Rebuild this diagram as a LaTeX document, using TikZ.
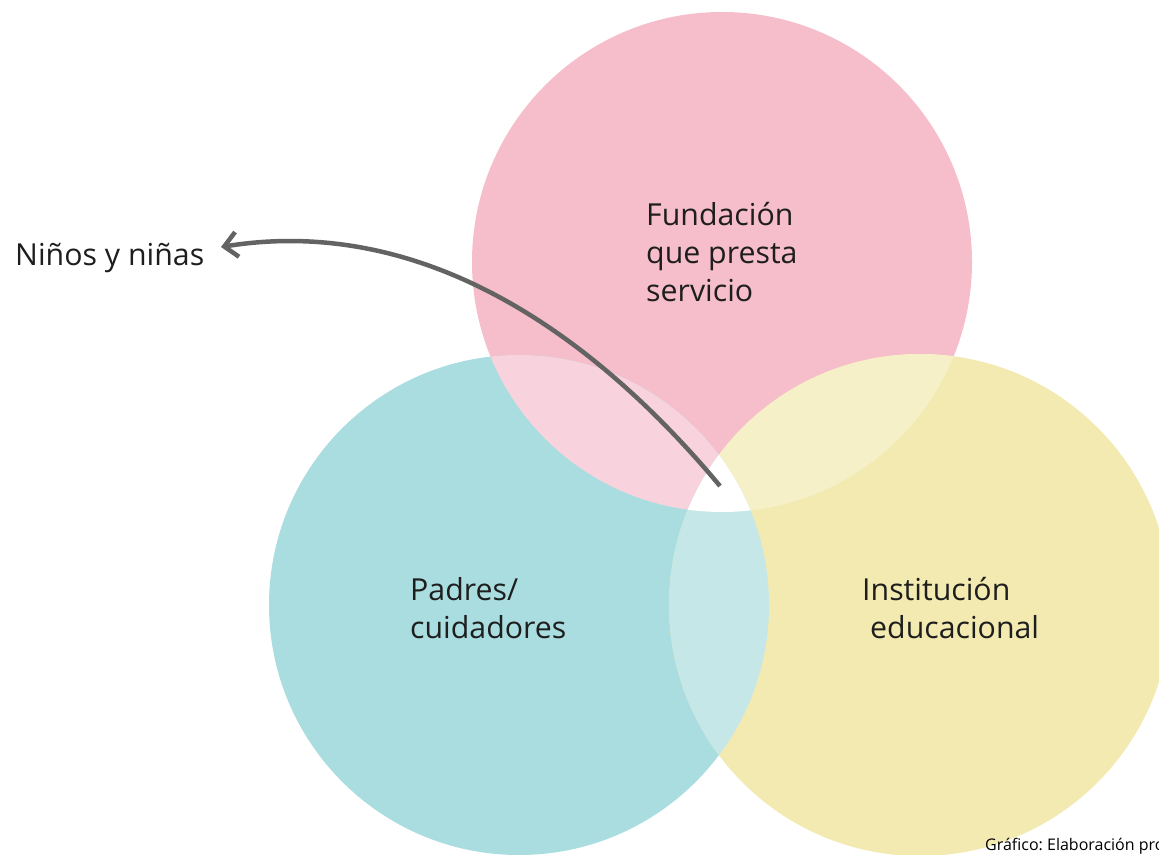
\documentclass[tikz,border=0pt]{standalone}
\usepackage{fontspec}
\setmainfont{Open Sans}
\usetikzlibrary{arrows.meta}
\frenchspacing
\definecolor{cpink}{HTML}{F6BDCB}
\definecolor{cteal}{HTML}{AADDDF}
\definecolor{cyel}{HTML}{F2EAB0}
\definecolor{cpt}{HTML}{F8D2DC}
\definecolor{cpy}{HTML}{F5F0C7}
\definecolor{cty}{HTML}{C5E7E7}
\definecolor{carrow}{HTML}{636363}
\definecolor{ctext}{HTML}{1E1E1E}
\tikzset{
  lbl/.style={anchor=base west, align=left, inner sep=0pt, font=\fontsize{30.3}{38}\selectfont, text=ctext},
  conn/.style={draw=carrow, line width=4.5pt, -{Straight Barb[length=13pt,width=25pt]}},
}
\begin{document}
\begin{tikzpicture}[x=1pt,y=-1pt]
\useasboundingbox (0,0) rectangle (1159,854);
\def\pinkc{(722,262) circle[radius=250]}
\def\tealc{(519,605) circle[radius=250]}
\def\yelc{(920,605) circle[radius=251]}
\fill[cpink] \pinkc;
\fill[cteal] \tealc;
\fill[cyel] \yelc;
\begin{scope}\clip \pinkc; \fill[cpt] \tealc; \end{scope}
\begin{scope}\clip \pinkc; \fill[cpy] \yelc; \end{scope}
\begin{scope}\clip \tealc; \fill[cty] \yelc; \end{scope}
\begin{scope}\clip \pinkc; \clip \tealc; \fill[white] \yelc; \end{scope}
\node[lbl] (fund) at (646,301) {Fundación\\que presta\\servicio};
\node[lbl] (padres) at (410,638) {Padres/\\cuidadores};
\node[lbl] (inst) at (862,638) {Institución\\\hspace*{8pt}educacional};
\node[lbl] (ninos) at (15,265) {Niños y niñas};
\coordinate (start) at (720,486);
\coordinate (tip) at (221,247);
\draw[conn] (start) .. controls (590,330) and (420,215) .. (tip);
\node[anchor=base west, inner sep=0pt, font=\fontsize{16}{18}\selectfont, text=black] (src) at (985,850) {Gráfico: Elaboración pro};
\end{tikzpicture}
\end{document}
